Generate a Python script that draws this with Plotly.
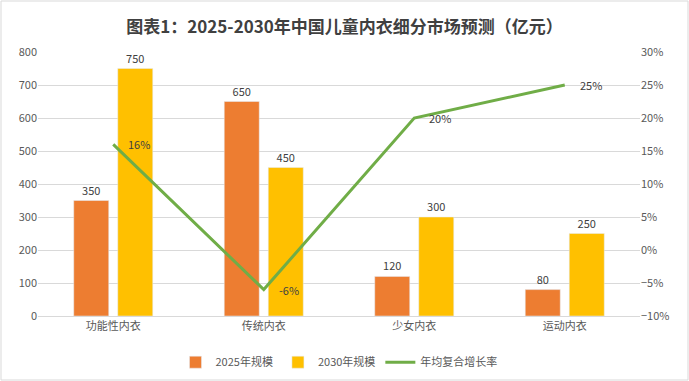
import plotly.graph_objects as go

categories = ["功能性内衣", "传统内衣", "少女内衣", "运动内衣"]
size_2025 = [350, 650, 120, 80]
size_2030 = [750, 450, 300, 250]
cagr = [0.16, -0.06, 0.20, 0.25]

FONT = "Noto Sans CJK SC, Noto Sans, sans-serif"
TXT = "#404040"

fig = go.Figure()
fig.add_trace(go.Bar(
    x=categories, y=size_2025, name="2025年规模",
    marker_color="#ED7D31", text=size_2025, textposition="outside",
    textfont=dict(size=11, color=TXT), cliponaxis=False,
))
fig.add_trace(go.Bar(
    x=categories, y=size_2030, name="2030年规模",
    marker_color="#FFC000", text=size_2030, textposition="outside",
    textfont=dict(size=11, color=TXT), cliponaxis=False,
))
fig.add_trace(go.Scatter(
    x=categories, y=cagr, name="年均复合增长率", yaxis="y2",
    mode="lines", line=dict(color="#70AD47", width=3),
))

annotations = [
    dict(x=c, y=v, xref="x", yref="y2", text=f"{round(v*100)}%",
         showarrow=False, xanchor="left", yanchor="middle", xshift=13,
         font=dict(size=11, color=TXT, family=FONT))
    for c, v in zip(categories, cagr)
]

fig.update_layout(
    width=689, height=381,
    margin=dict(l=38, r=49, t=52, b=65, autoexpand=False),
    paper_bgcolor="white", plot_bgcolor="white",
    font=dict(family=FONT, size=11, color="#595959"),
    title=dict(text="<b>图表1：2025-2030年中国儿童内衣细分市场预测（亿元）</b>",
               x=0.5, xanchor="center", y=0.93, yanchor="middle",
               font=dict(size=17, color=TXT, family=FONT)),
    barmode="group", bargap=0.415, bargroupgap=0.205,
    showlegend=True,
    legend=dict(orientation="h", x=0.5, xanchor="center", y=-0.12, yanchor="top",
                font=dict(size=11, color="#595959"), traceorder="normal",
                itemwidth=30),
    xaxis=dict(showgrid=False, showline=True, linecolor="#D9D9D9",
               tickfont=dict(size=11, color="#595959"), ticks="",
               automargin=False),
    yaxis=dict(range=[0, 800], dtick=100, showgrid=True, gridcolor="#D9D9D9",
               zeroline=False, tickfont=dict(size=11, color="#595959"),
               ticks="", automargin=False),
    yaxis2=dict(range=[-0.10, 0.30], dtick=0.05, tickformat=".0%",
                overlaying="y", side="right", showgrid=False, zeroline=False,
                tickfont=dict(size=11, color="#595959"), ticks="",
                automargin=False),
    annotations=annotations,
    shapes=[dict(type="rect", xref="paper", yref="paper",
                 x0=-37/602, x1=1+48/602, y0=-64/264, y1=1+51/264,
                 line=dict(color="#D9D9D9", width=1))],
)

fig.write_html("out.html", config={"displayModeBar": False},
               post_script="document.body.style.margin='0';")
